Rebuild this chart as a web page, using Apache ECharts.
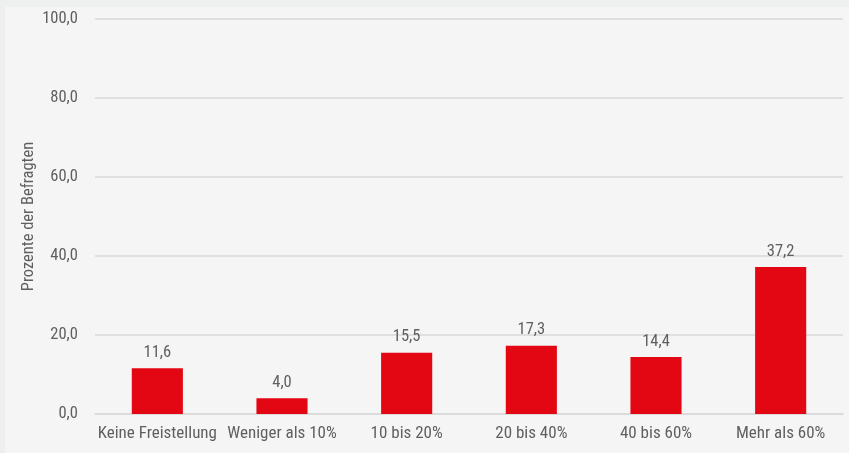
<!DOCTYPE html>
<html lang="de">
<head>
  <meta charset="utf-8"/>
  <title>Freistellung</title>
  <script src="https://cdn.jsdelivr.net/npm/echarts@6/dist/echarts.min.js"></script>
  <style>
    html, body { margin: 0; padding: 0; background-color: #eef0ef; }
    #main { position: absolute; left: 5px; top: 7px; width: 844px; height: 446px; background: #f5f5f5; }
  </style>
</head>
<body>
<div id="main"></div>
<script type="text/javascript">
  // Daten
  var categories = ['Keine Freistellung', 'Weniger als 10%', '10 bis 20%', '20 bis 40%', '40 bis 60%', 'Mehr als 60%'];
  var values = [11.6, 4.0, 15.5, 17.3, 14.4, 37.2];

  var fontName = '"Roboto Condensed", "Roboto", sans-serif';
  var fmt = function (v) { return Number(v).toFixed(1).replace('.', ','); };

  var myChart = echarts.init(document.getElementById('main'));
  myChart.setOption({
    animation: false,
    textStyle: { fontFamily: fontName },
    grid: { left: 90, right: 6, top: 12, bottom: 39 },
    xAxis: {
      type: 'category',
      data: categories,
      axisTick: { show: false },
      axisLine: { lineStyle: { color: '#d9d9d9', width: 1.5 } },
      axisLabel: { color: '#5f5f5f', fontSize: 17, fontFamily: fontName, margin: 11, interval: 0 }
    },
    yAxis: {
      type: 'value',
      min: 0, max: 100, interval: 20,
      name: 'Prozente der Befragten',
      nameLocation: 'middle',
      nameGap: 58,
      nameMoveOverlap: false,
      nameTextStyle: { color: '#5f5f5f', fontSize: 16.5, fontFamily: fontName },
      axisLabel: { color: '#5f5f5f', fontSize: 16.5, fontFamily: fontName, margin: 17, formatter: fmt },
      splitLine: { lineStyle: { color: '#d9d9d9', width: 1.5 } }
    },
    series: [{
      type: 'bar',
      data: values,
      barWidth: '41%',
      itemStyle: { color: '#e30613' },
      label: { show: true, position: 'top', distance: 7, color: '#5f5f5f', fontSize: 16.5, fontFamily: fontName, formatter: function (p) { return fmt(p.value); } }
    }]
  });
</script>
</body>
</html>
